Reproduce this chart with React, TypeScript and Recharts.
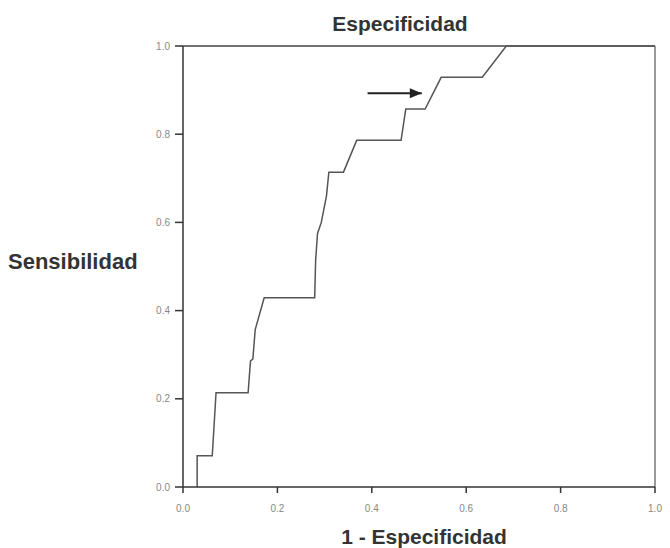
import React from 'react';
import { LineChart, Line, XAxis, YAxis, ReferenceLine, Customized } from 'recharts';

// ROC curve steps (1 - especificidad, sensibilidad)
const fpr = [0.03, 0.03, 0.062, 0.07, 0.138, 0.143, 0.148, 0.153, 0.172, 0.279, 0.281, 0.285, 0.293, 0.304, 0.309, 0.34, 0.368, 0.462, 0.472, 0.513, 0.547, 0.634, 0.685, 1.0];
const tpr = [0.0, 0.071, 0.071, 0.214, 0.214, 0.286, 0.29, 0.357, 0.429, 0.429, 0.514, 0.575, 0.6, 0.66, 0.714, 0.714, 0.786, 0.786, 0.857, 0.857, 0.929, 0.929, 1.0, 1.0];

// arrow marking the chosen cut-off
const arrowX = [0.391, 0.506];
const arrowY = [0.893, 0.893];

const axisTicks = [0, 0.2, 0.4, 0.6, 0.8, 1.0];

const rocData = fpr.map((x, i) => ({ x, y: tpr[i] }));
const arrowData = arrowX.map((x, i) => ({ x, y: arrowY[i] }));

const FONT = '"Liberation Sans", Arial, sans-serif';

const ArrowHead = (props: any) => {
  const { cx, cy, index } = props;
  if (index !== arrowData.length - 1) return <g key={`a-${index}`} />;
  return (
    <polygon
      key={`a-${index}`}
      points={`${cx},${cy} ${cx - 12},${cy - 5} ${cx - 12},${cy + 5}`}
      fill="#222"
    />
  );
};

const Titles = () => (
  <g fontFamily={FONT} fontWeight="bold" fill="#333">
    <text x={400} y={31} fontSize={21} textAnchor="middle">Especificidad</text>
    <text x={8} y={269} fontSize={22}>Sensibilidad</text>
    <text x={424} y={544} fontSize={21} textAnchor="middle">1 - Especificidad</text>
  </g>
);

export default function App() {
  return (
    <div style={{ position: 'absolute', left: 0, top: 0, background: '#fff' }}>
      <LineChart width={670} height={548} margin={{ top: 46, right: 15, left: 143, bottom: 31 }}>
        <XAxis
          type="number"
          dataKey="x"
          domain={[0, 1]}
          ticks={axisTicks}
          tickFormatter={(v: number) => v.toFixed(1)}
          tickSize={6}
          tickMargin={12}
          height={30}
          tick={{ fontSize: 10, fill: '#888', fontFamily: FONT }}
          axisLine={{ stroke: '#333', strokeWidth: 1.5 }}
          tickLine={{ stroke: '#333', strokeWidth: 1.5 }}
        />
        <YAxis
          type="number"
          dataKey="y"
          domain={[0, 1]}
          ticks={axisTicks}
          tickFormatter={(v: number) => v.toFixed(1)}
          tickSize={8}
          tickMargin={5}
          width={40}
          tick={{ fontSize: 10, fill: '#888', fontFamily: FONT }}
          axisLine={{ stroke: '#333', strokeWidth: 1.5 }}
          tickLine={{ stroke: '#333', strokeWidth: 1.5 }}
        />
        <ReferenceLine y={1} stroke="#444" strokeWidth={1.5} />
        <ReferenceLine x={1} stroke="#555" strokeWidth={1.2} />
        <Line
          data={rocData}
          dataKey="y"
          type="linear"
          stroke="#555"
          strokeWidth={1.5}
          dot={false}
          isAnimationActive={false}
        />
        <Line
          data={arrowData}
          dataKey="y"
          type="linear"
          stroke="#222"
          strokeWidth={2}
          dot={ArrowHead}
          isAnimationActive={false}
        />
        <Customized component={Titles} />
      </LineChart>
    </div>
  );
}
